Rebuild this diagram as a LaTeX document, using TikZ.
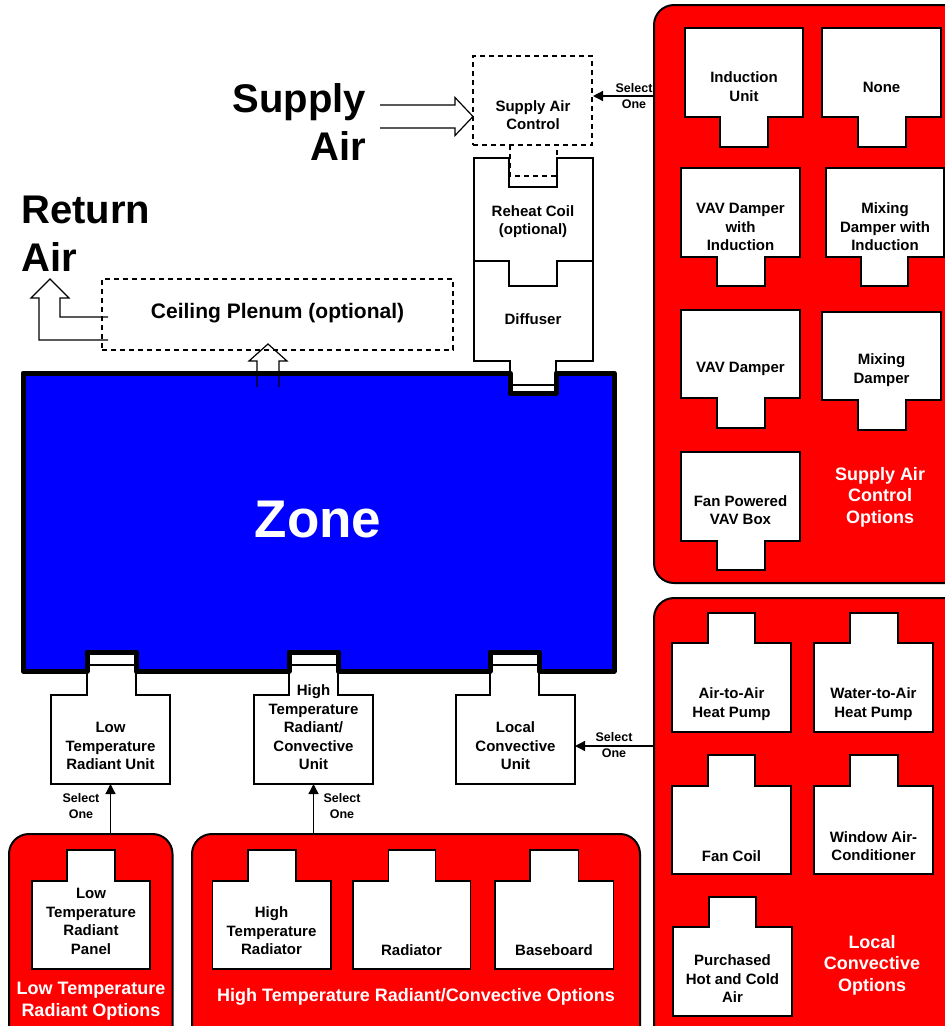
\documentclass[tikz,border=0pt]{standalone}
\usepackage{fontspec}
\setmainfont{Liberation Sans}
\usetikzlibrary{arrows.meta,calc}
\definecolor{zoneblue}{RGB}{0,0,255}
\definecolor{optred}{RGB}{255,0,0}
\tikzset{
  lbl/.style={font=\bfseries\fontsize{15}{18.5}\selectfont, align=center, inner sep=0pt},
  selt/.style={font=\bfseries\fontsize{12.5}{15.5}\selectfont, align=center, inner sep=0pt},
  grp/.style={font=\bfseries\fontsize{18}{21.5}\selectfont, text=white, align=center, inner sep=0pt},
  big/.style={font=\bfseries\fontsize{40}{48}\selectfont, inner sep=0pt},
  unit/.style={draw, fill=white, line width=1.5pt, inner sep=0pt, outer sep=0pt},
  unitline/.style={line width=1.5pt},
  panel/.style={draw, fill=optred, line width=2pt, rounded corners=20pt, inner sep=0pt, outer sep=0pt},
  dashbox/.style={draw, line width=1.2pt, dash pattern=on 5pt off 4pt, inner sep=0pt, outer sep=0pt},
  selarrow/.style={line width=1.3pt, -{Triangle[length=10pt,width=10pt]}},
  hollow/.style={line width=1.2pt, line join=miter},
}
% body x1 y1 x2 y2, tab tx1 tx2 ty
\newcommand\tabtop[8]{%
  \node[unit, minimum width={(#4-#2)*1pt}, minimum height={(#5-#3)*1pt}] (#1) at ({(#2+#4)/2},{(#3+#5)/2}) {};
  \fill[white] ({#6+0.75},{#8+0.75}) rectangle ({#7-0.75},{#3+1.2});
  \draw[unitline] (#6,#3) -- (#6,#8) -- (#7,#8) -- (#7,#3);
}
\newcommand\tabbot[8]{%
  \node[unit, minimum width={(#4-#2)*1pt}, minimum height={(#5-#3)*1pt}] (#1) at ({(#2+#4)/2},{(#3+#5)/2}) {};
  \fill[white] ({#6+0.75},{#5-1.2}) rectangle ({#7-0.75},{#8-0.75});
  \draw[unitline] (#6,#5) -- (#6,#8) -- (#7,#8) -- (#7,#5);
}
\newcommand\optpanel[5]{%
  \node[panel, minimum width={(#4-#2)*1pt}, minimum height={(#5-#3)*1pt}] (#1) at ({(#2+#4)/2},{(#3+#5)/2}) {};
}
\begin{document}
\begin{tikzpicture}[x=1pt,y=-1pt]
\clip (0,0) rectangle (945,1026);
\fill[white] (0,0) rectangle (945,1026);

% ---------- option panels ----------
\optpanel{sap}{654}{5}{975}{583}
\optpanel{lcp}{654}{598}{975}{1050}
\optpanel{ltpp}{9}{834}{172.5}{1050}
\optpanel{htpp}{192}{834}{640}{1050}

% supply air control options
\tabbot{iu}{685}{28}{803}{117}{720}{768}{147}
\tabbot{none}{822}{28}{941}{117}{858}{906}{147}
\tabbot{vavi}{681}{168}{800}{257}{717}{765}{286}
\tabbot{mixi}{826}{168}{944}{257}{861}{908}{286}
\tabbot{vav}{681}{310}{800}{398}{717}{765}{428}
\tabbot{mix}{822}{312}{941}{400}{858}{906}{430}
\tabbot{fpv}{681}{452}{800}{541}{717}{765}{570}
\node[lbl] (tiu) at (744,86.5) {Induction\\Unit};
\node[lbl] (tnone) at (881.5,87) {None};
\node[lbl] (tvavi) at (740.5,227) {VAV Damper\\with\\Induction};
\node[lbl] (tmixi) at (885,227) {Mixing\\Damper with\\Induction};
\node[lbl] (tvav) at (740.5,369) {VAV Damper};
\node[lbl] (tmix) at (881.5,370) {Mixing\\Damper};
\node[lbl] (tfpv) at (740.5,510) {Fan Powered\\VAV Box};
\node[grp] (gsap) at (880,497) {Supply Air\\Control\\Options};

% local convective options
\tabtop{a2a}{672}{643}{791}{732}{708}{755}{613}
\tabtop{w2a}{814}{643}{933}{732}{850}{898}{613}
\tabtop{fc}{672}{786}{791}{874}{708}{755}{755}
\tabtop{wac}{814}{786}{933}{874}{850}{898}{755}
\tabtop{phc}{673}{927}{792}{1016}{709}{756}{897}
\node[lbl] (ta2a) at (731.5,704) {Air-to-Air\\Heat Pump};
\node[lbl] (tw2a) at (873.5,704) {Water-to-Air\\Heat Pump};
\node[lbl] (tfc) at (731.5,856) {Fan Coil};
\node[lbl] (twac) at (873.5,846) {Window Air-\\Conditioner};
\node[lbl] (tphc) at (732.5,979) {Purchased\\Hot and Cold\\Air};
\node[grp] (glcp) at (872,965) {Local\\Convective\\Options};

% low / high temperature options
\tabtop{ltrp}{32}{881}{150}{969}{67}{115}{850}
\tabtop{htr}{212.5}{881}{331}{969}{248}{296}{850}
\tabtop{rad}{353}{881}{470.5}{969}{388.5}{435.6}{850}
\tabtop{bb}{495}{881}{613.6}{969}{530}{578.7}{850}
\node[lbl] (tltrp) at (91,921.5) {Low\\Temperature\\Radiant\\Panel};
\node[lbl] (thtr) at (271.5,931) {High\\Temperature\\Radiator};
\node[lbl] (trad) at (411.5,950) {Radiator};
\node[lbl] (tbb) at (554,950) {Baseboard};
\node[grp] (gltp) at (91,1001) {Low Temperature\\Radiant Options};
\node[grp] (ghtp) at (416,997) {High Temperature Radiant/Convective Options};

% ---------- supply air column ----------
\node[dashbox, minimum width=119pt, minimum height=89pt] (sac) at (532.5,100.5) {};
\draw[line width=1.2pt, dash pattern=on 5pt off 4pt] (510,145) -- (510,176) -- (557,176) -- (557,145);
\draw[unit] (474,261) -- (509,261) -- (509,286) -- (557,286) -- (557,261) -- (593,261) -- (593,361) -- (556,361) -- (556,385) -- (510,385) -- (510,361) -- (474,361) -- cycle;
\draw[unit] (474,158) -- (509,158) -- (509,187) -- (557,187) -- (557,158) -- (593,158) -- (593,261) -- (557,261) -- (557,286) -- (509,286) -- (509,261) -- (474,261) -- cycle;
\node[lbl] (tsac) at (533,115) {Supply Air\\Control};
\node[lbl] (trh) at (533,221.5) {Reheat Coil\\(optional)};
\node[lbl] (tdf) at (533,319) {Diffuser};

% ---------- zone units ----------
\tabtop{lowu}{51}{695}{170}{784}{87}{136}{665}
\tabtop{hiu}{254}{695}{373}{784}{289}{338}{665}
\tabtop{lcu}{456}{695}{575}{784}{490}{539}{665}
\node[lbl] (tlowu) at (110.5,746) {Low\\Temperature\\Radiant Unit};
\node[lbl] (thiu) at (313.5,727.5) {High\\Temperature\\Radiant/\\Convective\\Unit};
\node[lbl] (tlcu) at (515.5,746) {Local\\Convective\\Unit};

% ---------- zone ----------
\draw[fill=zoneblue, line width=5pt, line join=round]
  (23,373) -- (510,373) -- (510,393) -- (556,393) -- (556,373) -- (614,373)
  -- (614,671) -- (539,671) -- (539,652) -- (490,652) -- (490,671)
  -- (338,671) -- (338,652) -- (289,652) -- (289,671)
  -- (136,671) -- (136,652) -- (87,652) -- (87,671) -- (23,671) -- cycle;
\node[font=\bfseries\fontsize{53}{60}\selectfont, text=white, inner sep=0pt] (zone) at (318,520) {Zone};

% ---------- ceiling plenum ----------
\node[dashbox, minimum width=351pt, minimum height=71pt] (plenum) at (277.5,314.5) {};
\node[font=\bfseries\fontsize{21}{25}\selectfont, inner sep=0pt] (tplenum) at (277.5,313) {Ceiling Plenum (optional)};
% zone -> plenum hollow arrow
\draw[hollow] (257,387) -- (257,361) -- (249,361) -- (268,344) -- (287,361) -- (279,361) -- (279,387);
% plenum -> return air hollow arrow
\draw[hollow] (108,317) -- (60,317) -- (60,298) -- (69,298) -- (50,279) -- (31,298) -- (39,298) -- (39,340) -- (108,340);
% supply air hollow arrow
\draw[hollow] (380,105) -- (455,105) -- (455,97.5) -- (473,116.5) -- (455,135.5) -- (455,128) -- (380,128);

\node[big, align=right, anchor=east] (supply) at (366,122) {Supply\\Air};
\node[big, align=left, anchor=west] (ret) at (21,234) {Return\\Air};

% ---------- select one connectors ----------
\coordinate (sacin) at (593,96);
\draw[selarrow] (sap.west |- sacin) -- (sacin);
\node[selt] (s1) at (634,96) {Select\\One};
\draw[selarrow] (ltpp.north -| lowu.south) -- (lowu.south);
\node[selt] (s2) at (81,806) {Select\\One};
\draw[selarrow] (htpp.north -| hiu.south) -- (hiu.south);
\node[selt] (s3) at (342,806) {Select\\One};
\coordinate (lcin) at (575,746);
\draw[selarrow] (lcp.west |- lcin) -- (lcin);
\node[selt] (s4) at (614,745) {Select\\One};
\end{tikzpicture}
\end{document}
